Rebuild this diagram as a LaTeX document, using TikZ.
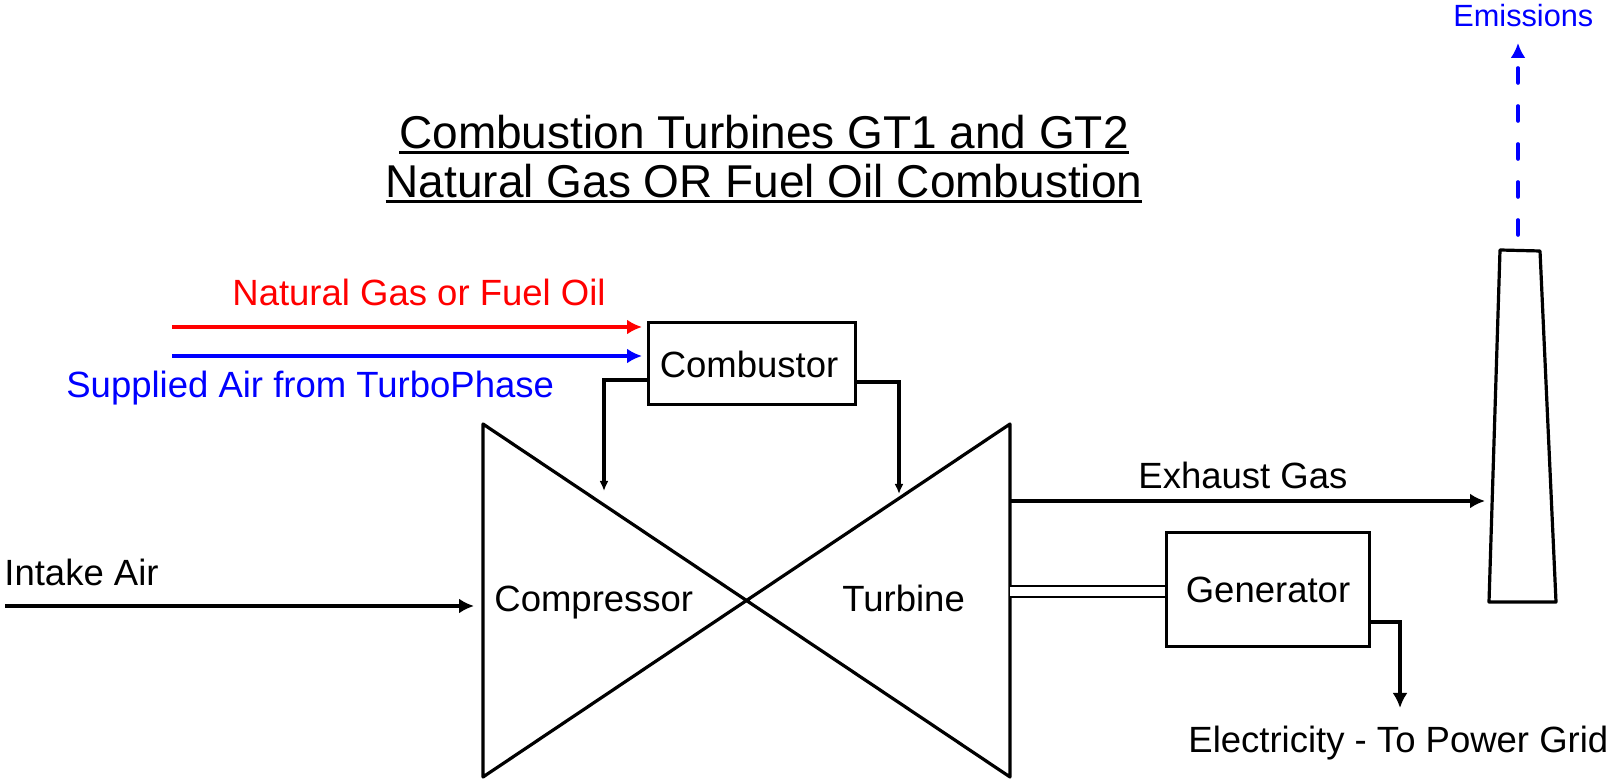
\documentclass[tikz,border=0pt]{standalone}
\usepackage{fontspec}
\setmainfont{Liberation Sans}
\usepackage{xcolor}
\definecolor{fuelred}{RGB}{255,0,0}
\definecolor{airblue}{RGB}{0,0,255}
\usetikzlibrary{arrows.meta, positioning}
\newsavebox{\ttlbox}
\newcommand{\ttlline}[1]{\sbox{\ttlbox}{#1}\rlap{\rule[-3pt]{\wd\ttlbox}{1.4pt}}\usebox{\ttlbox}}
\tikzset{
  lbl/.style={anchor=base west, inner sep=0pt, font=\fontsize{18.25}{20}\selectfont},
  unit/.style={draw, line width=1.5pt, inner sep=0pt, font=\fontsize{18.25}{20}\selectfont},
  flow/.style={line width=1.55pt, -{Latex[length=7.5pt,width=7.5pt]}},
  thinflow/.style={line width=1.55pt, -{Latex[length=5pt,width=4.5pt]}},
  body/.style={line width=1.6pt, line join=round}
}
\begin{document}
\begin{tikzpicture}[x=0.5pt, y=-0.5pt]
\useasboundingbox (0,0) rectangle (1611,779);
% title
\node[align=center, inner sep=0pt, font=\fontsize{23}{24.4}\selectfont] (title) at (764,159)
  {\ttlline{Combustion Turbines GT1 and GT2}\\ \ttlline{Natural Gas OR Fuel Oil Combustion}};
% machines
\draw[body] (483,424) -- (1010,777) -- (1010,424) -- (483,777) -- cycle;
\draw[body] (1500,250) -- (1540,251) -- (1556,602) -- (1489,602) -- cycle;
\node[unit, minimum width=103.5pt, minimum height=41pt] (combustor) at (752,364) {Combustor\kern3pt};
\node[unit, minimum width=101.5pt, minimum height=57pt] (generator) at (1268,590) {Generator};
\node[lbl] (compressor) at (494,612) {Compressor};
\node[lbl] (turbine) at (842,612) {Turbine};
% free ends
\coordinate (fuelstart) at (172,327);
\coordinate (airstart) at (172,356);
\coordinate (compin) at (604,491);
\coordinate (turbin) at (899,494);
\coordinate (intakestart) at (5,606);
\coordinate (intakeend) at (474,606);
\coordinate (exhauststart) at (1010,501);
\coordinate (stackin) at (1485,501);
\coordinate (shaftstart) at (1010,591.5);
\coordinate (gridend) at (1400,708);
\coordinate (emitstart) at (1518,235);
\coordinate (emitend) at (1518,43);
% labels
\node[lbl, text=fuelred] (fuellbl) at (232,306) {Natural Gas or Fuel Oil};
\node[lbl, text=airblue] (airlbl) at (66,398) {Supplied Air from TurboPhase};
\node[lbl] (intakelbl) at (4,586) {Intake Air};
\node[lbl] (exhaustlbl) at (1138,489) {Exhaust Gas};
\node[lbl] (gridlbl) at (1188,752) {Electricity - To Power Grid};
\node[lbl, text=airblue, font=\fontsize{15.35}{18}\selectfont] (emitlbl) at (1453,27) {Emissions};
% connectors
\draw[flow, line width=1.6pt, fuelred, shorten >=2.5pt] (fuelstart) -- (fuelstart -| combustor.west);
\draw[flow, line width=1.6pt, airblue, shorten >=2.5pt] (airstart) -- (airstart -| combustor.west);
\draw[thinflow] (combustor.west |- 0,380) -| (compin);
\draw[thinflow] (combustor.east |- 0,382) -| (turbin);
\draw[flow] (intakestart) -- (intakeend);
\draw[flow] (exhauststart) -- (stackin);
\draw[double, double distance=4.5pt, line width=0.8pt] (shaftstart) -- (shaftstart -| generator.west);
\draw[flow] (generator.east |- 0,622) -| (gridend);
\draw[flow, airblue, line width=1.8pt, line cap=round, dash pattern=on 7.5pt off 11.5pt] (emitstart) -- (emitend);
\end{tikzpicture}
\end{document}
